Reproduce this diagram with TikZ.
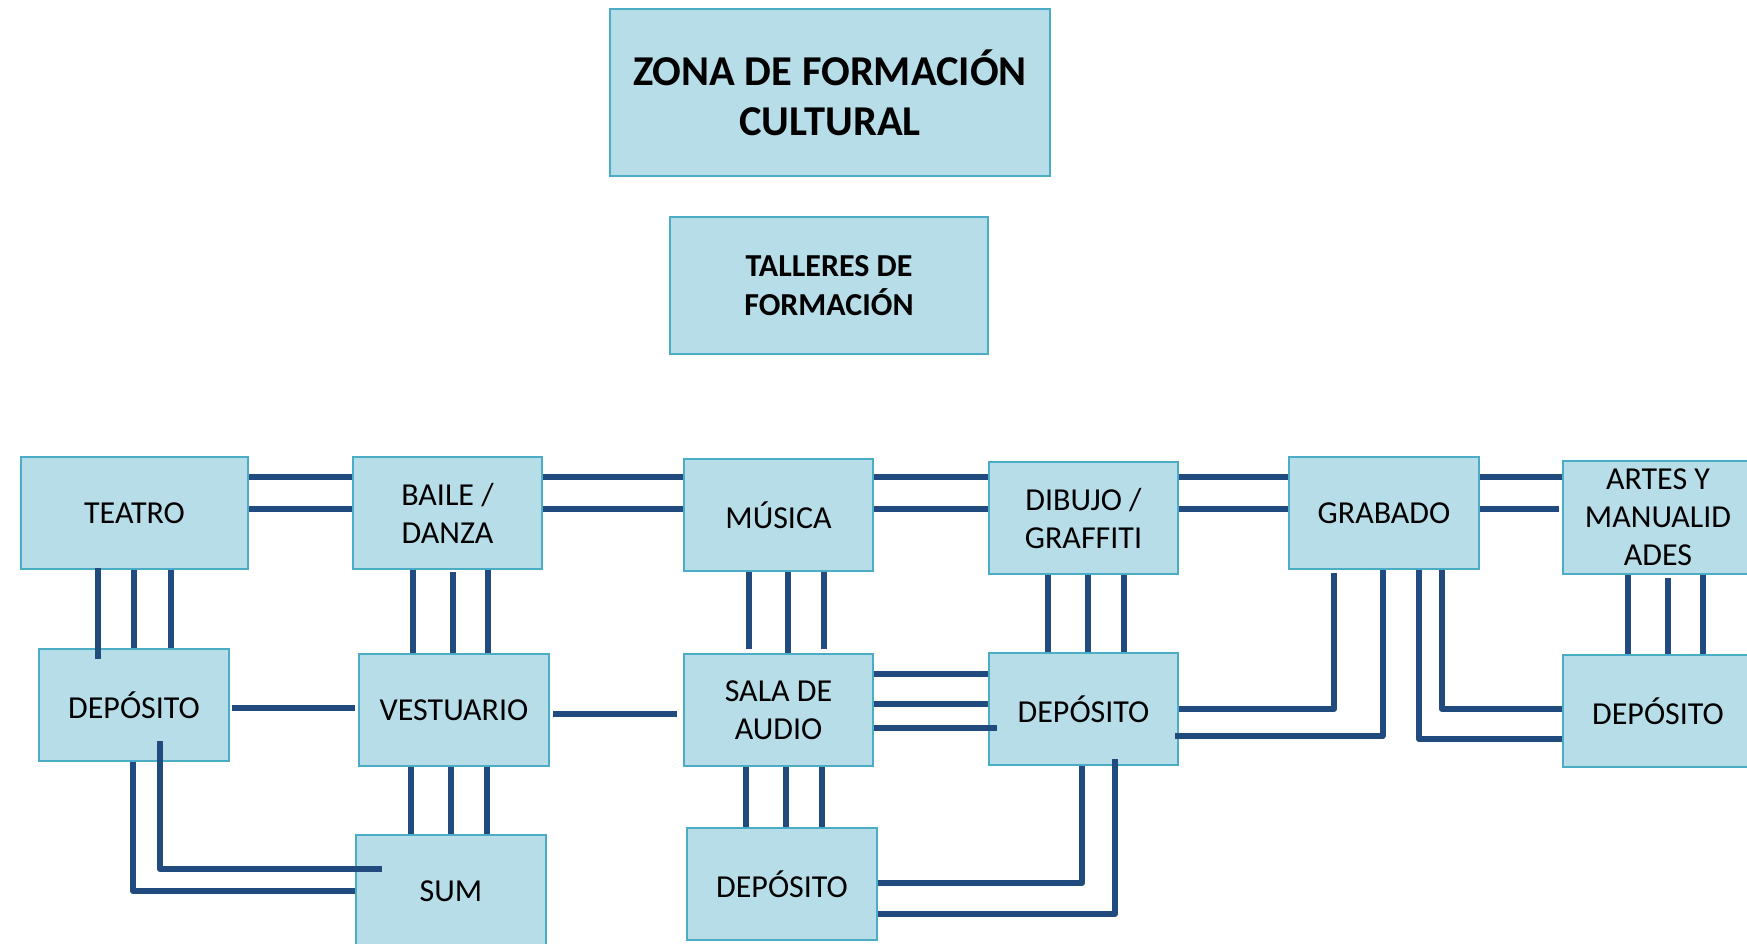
\documentclass[tikz,border=0pt]{standalone}
\usepackage{fontspec}
\setmainfont{Carlito}
\definecolor{boxfill}{RGB}{183,221,232}
\definecolor{boxline}{RGB}{75,172,198}
\definecolor{connc}{RGB}{33,74,126}
\tikzset{
  box/.style={rectangle, draw=boxline, fill=boxfill, line width=2pt, inner sep=0pt,
    align=center, anchor=north west, font=\fontsize{32}{38}\selectfont},
  conn/.style={draw=connc, line width=6pt, line join=round}
}
\begin{document}
\begin{tikzpicture}[x=1pt,y=-1pt]
\fill[white] (0,0) rectangle (1747,944);
\useasboundingbox (0,0) rectangle (1747,944);
\clip (0,0) rectangle (1747,944);
% top boxes
\node[box, minimum width=440pt, minimum height=167pt, font=\fontsize{42.5}{51}\selectfont\bfseries] (zona) at (609,8) {ZONA DE FORMACIÓN\\[-1pt]CULTURAL};
\node[box, minimum width=318pt, minimum height=137pt, font=\fontsize{32}{39}\selectfont\bfseries] (talleres) at (669,216) {TALLERES DE\\FORMACIÓN};
% row 1
\node[box, minimum width=227pt, minimum height=112pt] (teatro) at (20,456) {TEATRO};
\node[box, minimum width=189pt, minimum height=112pt] (baile) at (352,456) {BAILE /\\DANZA};
\node[box, minimum width=189pt, minimum height=112pt] (musica) at (683,458) {MÚSICA};
\node[box, minimum width=189pt, minimum height=112pt] (dibujo) at (988,461) {DIBUJO /\\GRAFFITI};
\node[box, minimum width=190pt, minimum height=112pt] (grabado) at (1288,456) {GRABADO};
\node[box, minimum width=190pt, minimum height=113pt] (artes) at (1562,460) {ARTES Y\\MANUALID\\ADES};
% row 2
\node[box, minimum width=190pt, minimum height=112pt] (dep1) at (38,648) {DEPÓSITO};
\node[box, minimum width=190pt, minimum height=112pt] (vest) at (358,653) {VESTUARIO};
\node[box, minimum width=189pt, minimum height=112pt] (sala) at (683,653) {SALA DE\\AUDIO};
\node[box, minimum width=189pt, minimum height=112pt] (dep2) at (988,652) {DEPÓSITO};
\node[box, minimum width=190pt, minimum height=112pt] (dep4) at (1562,654) {DEPÓSITO};
% row 3
\node[box, minimum width=190pt, minimum height=112pt] (sum) at (355,834) {SUM};
\node[box, minimum width=190pt, minimum height=112pt] (dep3) at (686,827) {DEPÓSITO};
% row 1 horizontals
\foreach \yy in {477,509}{
  \draw[conn] (teatro.east |- 0,\yy) -- (baile.west |- 0,\yy);
  \draw[conn] (baile.east |- 0,\yy) -- (musica.west |- 0,\yy);
  \draw[conn] (musica.east |- 0,\yy) -- (dibujo.west |- 0,\yy);
  \draw[conn] (dibujo.east |- 0,\yy) -- (grabado.west |- 0,\yy);
}
\draw[conn] (grabado.east |- 0,477) -- (artes.west |- 0,477);
\draw[conn] (grabado.east |- 0,509) -- ([xshift=-3pt]artes.west |- 0,509);
% verticals teatro - dep1
\draw[conn] ([yshift=2pt]teatro.south -| 97.6,0) -- ([yshift=-11pt]dep1.north -| 97.6,0);
\draw[conn] (teatro.south -| 134.3,0) -- (dep1.north -| 134.3,0);
\draw[conn] (teatro.south -| 171,0) -- (dep1.north -| 171,0);
% baile - vest
\draw[conn] (baile.south -| 412.5,0) -- (vest.north -| 412.5,0);
\draw[conn] ([yshift=-2pt]baile.south -| 452.7,0) -- (vest.north -| 452.7,0);
\draw[conn] (baile.south -| 488.3,0) -- (vest.north -| 488.3,0);
% musica - sala
\draw[conn] (musica.south -| 748.5,0) -- ([yshift=4pt]sala.north -| 748.5,0);
\draw[conn] (musica.south -| 787.5,0) -- (sala.north -| 787.5,0);
\draw[conn] (musica.south -| 823.9,0) -- ([yshift=4pt]sala.north -| 823.9,0);
% dibujo - dep2
\draw[conn] (dibujo.south -| 1048,0) -- (dep2.north -| 1048,0);
\draw[conn] (dibujo.south -| 1087.5,0) -- (dep2.north -| 1087.5,0);
\draw[conn] (dibujo.south -| 1123.5,0) -- (dep2.north -| 1123.5,0);
% artes - dep4
\draw[conn] (artes.south -| 1628,0) -- (dep4.north -| 1628,0);
\draw[conn] ([yshift=-3pt]artes.south -| 1668,0) -- (dep4.north -| 1668,0);
\draw[conn] (artes.south -| 1703,0) -- (dep4.north -| 1703,0);
% vest - sum
\draw[conn] (vest.south -| 411.4,0) -- (sum.north -| 411.4,0);
\draw[conn] (vest.south -| 450.8,0) -- (sum.north -| 450.8,0);
\draw[conn] (vest.south -| 486.8,0) -- (sum.north -| 486.8,0);
% sala - dep3
\draw[conn] (sala.south -| 746,0) -- (dep3.north -| 746,0);
\draw[conn] (sala.south -| 786,0) -- (dep3.north -| 786,0);
\draw[conn] (sala.south -| 822,0) -- (dep3.north -| 822,0);
% middle row horizontals
\draw[conn] ([xshift=2pt]dep1.east |- 0,708) -- ([xshift=-3pt]vest.west |- 0,708);
\draw[conn] ([xshift=3pt]vest.east |- 0,714) -- ([xshift=-6pt]sala.west |- 0,714);
\draw[conn] (sala.east |- 0,674) -- (dep2.west |- 0,674);
\draw[conn] (sala.east |- 0,704) -- (dep2.west |- 0,704);
\draw[conn] (sala.east |- 0,728) -- ([xshift=9pt]dep2.west |- 0,728);
% dep2 - grabado
\draw[conn] (dep2.east |- 0,709) -- (1334,709) -- ([yshift=-3pt]grabado.south -| 1334,0);
\draw[conn] ([xshift=-4pt]dep2.east |- 0,736) -- (1382.5,736) -- (grabado.south -| 1382.5,0);
% grabado - dep4
\draw[conn] (grabado.south -| 1419,0) -- (1419,739) -- (dep4.west |- 0,739);
\draw[conn] (grabado.south -| 1442,0) -- (1442,709) -- (dep4.west |- 0,709);
% dep1 - sum
\draw[conn] ([yshift=21pt]dep1.south -| 160,0) -- (160,869) -- ([xshift=27pt]sum.west |- 0,869);
\draw[conn] (dep1.south -| 133,0) -- (133,891) -- (sum.west |- 0,891);
% dep3 - dep2
\draw[conn] (dep3.east |- 0,883) -- (1082,883) -- (dep2.south -| 1082,0);
\draw[conn] (dep3.east |- 0,914) -- (1114.7,914) -- ([yshift=7pt]dep2.south -| 1114.7,0);
\end{tikzpicture}
\end{document}
